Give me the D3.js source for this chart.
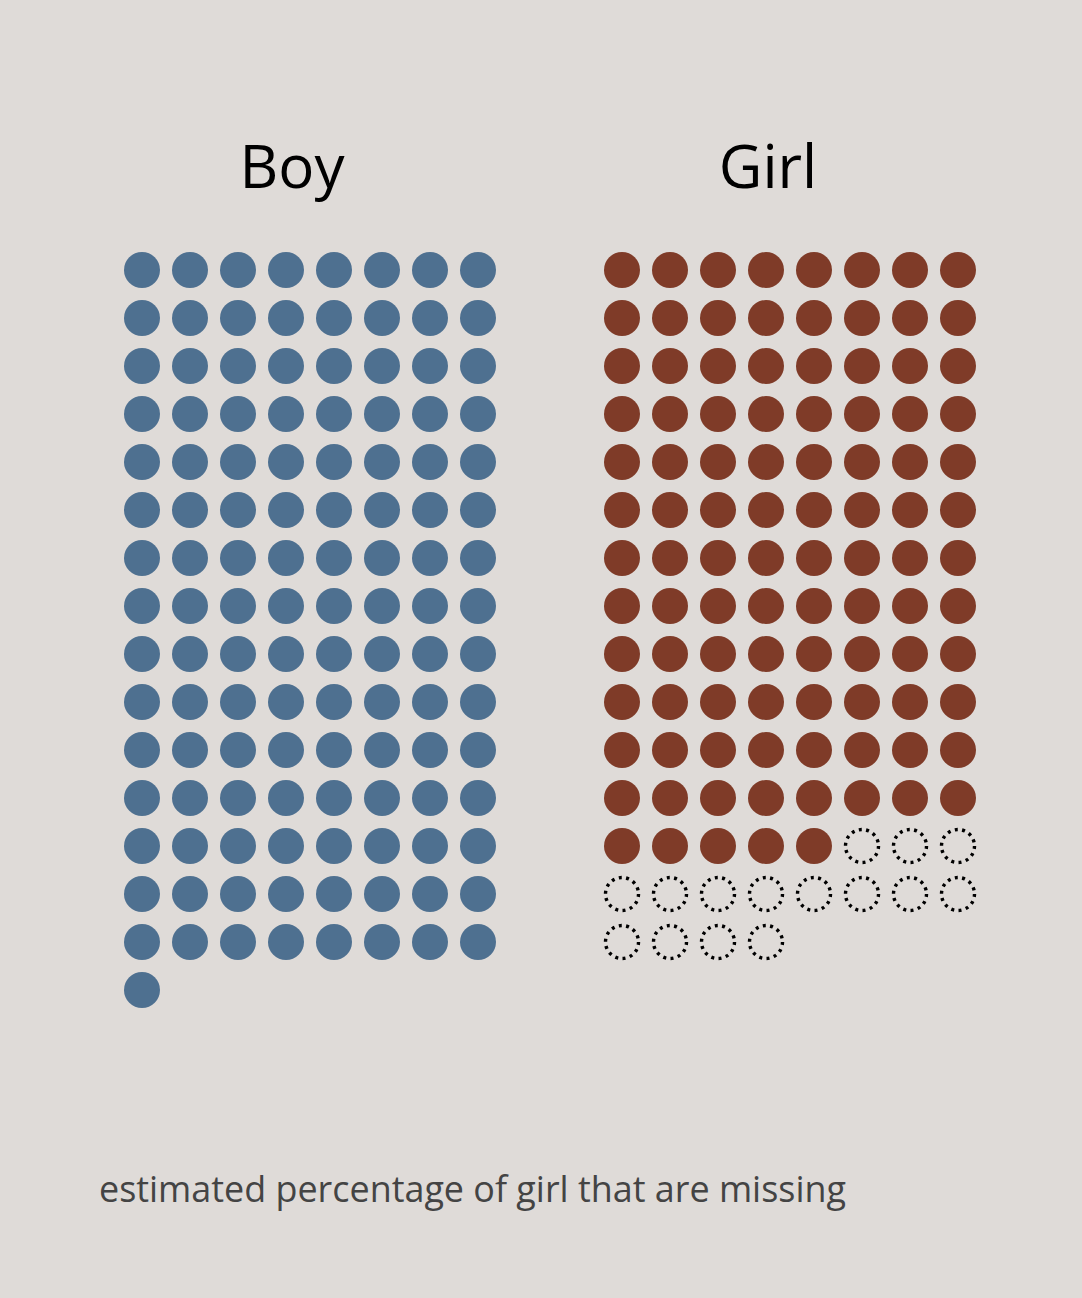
<!DOCTYPE html>
<html><head><meta charset="utf-8">
<script src="https://cdn.jsdelivr.net/npm/d3@7"></script>
<style>body{margin:0;background:#dfdbd8;}svg{display:block;}</style>
</head><body>
<svg id="chart" width="1082" height="1298"></svg>
<script>
const categories = ["Boy", "Girl"];
const filledCounts = [121, 101];
const missingCounts = [0, 15];
const colors = ["#4e7090", "#7f3b28"];
const caption = "estimated percentage of girl that are missing";

const svg = d3.select("#chart");
svg.append("rect").attr("width", 1082).attr("height", 1298).attr("fill", "#dfdbd8");

const cols = 8;
const panelX = d3.scalePoint().domain(categories).range([142, 622]);
const titleX = d3.scalePoint().domain(categories).range([292, 768]);
const colX = d3.scaleLinear().domain([0, 1]).range([0, 48]);
const rowY = d3.scaleLinear().domain([0, 1]).range([270, 318]);

categories.forEach((cat, i) => {
  const x0 = panelX(cat);
  svg.append("text").attr("x", titleX(cat)).attr("y", 188)
    .attr("text-anchor", "middle").attr("font-family", "Open Sans")
    .attr("font-size", 60).attr("fill", "#000").text(cat);
  const total = filledCounts[i] + missingCounts[i];
  const data = d3.range(total).map(k => ({k, filled: k < filledCounts[i]}));
  const g = svg.append("g");
  g.selectAll("circle").data(data).join("circle")
    .attr("cx", d => x0 + colX(d.k % cols))
    .attr("cy", d => rowY(Math.floor(d.k / cols)))
    .attr("r", d => d.filled ? 18 : 16.5)
    .attr("fill", d => d.filled ? colors[i] : "none")
    .attr("stroke", d => d.filled ? "none" : "#000")
    .attr("stroke-width", 3.4)
    .attr("stroke-dasharray", d => d.filled ? null : "3 4.4");
});

svg.append("text").attr("x", 99).attr("y", 1202)
  .attr("font-family", "Open Sans").attr("font-size", 35.9)
  .attr("fill", "#444").text(caption);
</script>
</body></html>
